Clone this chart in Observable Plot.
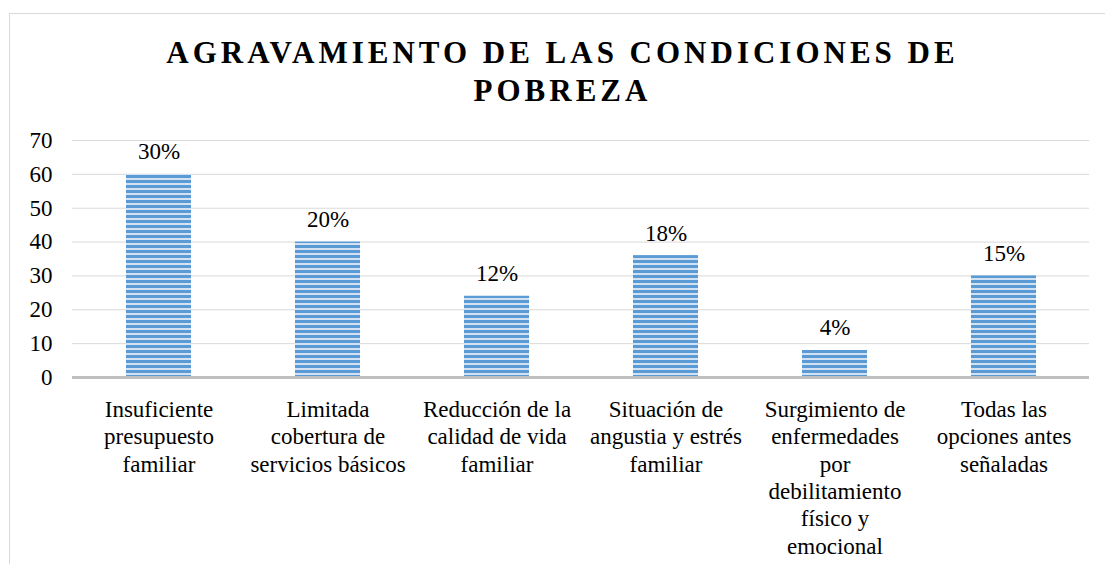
<!DOCTYPE html>
<html><head><meta charset="utf-8">
<script src="https://cdn.jsdelivr.net/npm/d3@7"></script>
<script src="https://cdn.jsdelivr.net/npm/@observablehq/plot@0.6"></script>
<style>
body{margin:0;overflow:hidden;background:#fff;}
#wrap{position:relative;width:1105px;height:564px;overflow:hidden;background:#fff;}
#frame{position:absolute;left:9px;top:13px;width:1200px;height:700px;border:1px solid #d9d9d9;}
#title{position:absolute;left:10px;top:34px;width:1105px;text-align:center;font-family:"Liberation Serif",Tinos,"Times New Roman",Times,"DejaVu Serif",serif;font-weight:bold;font-size:31px;letter-spacing:4px;line-height:38px;color:#000;}
#chart{position:absolute;left:0;top:0;}
#chart svg text{font-family:"Liberation Serif",Tinos,"Times New Roman",Times,"DejaVu Serif",serif !important;}
</style>
</head><body>
<div id="wrap"><div id="frame"></div><div id="title">AGRAVAMIENTO DE LAS CONDICIONES DE<br>POBREZA</div><div id="chart"></div></div>
<script>
const categories = [
  "Insuficiente\npresupuesto\nfamiliar",
  "Limitada\ncobertura de\nservicios básicos",
  "Reducción de la\ncalidad de vida\nfamiliar",
  "Situación de\nangustia y estrés\nfamiliar",
  "Surgimiento de\nenfermedades\npor\ndebilitamiento\nfísico y\nemocional",
  "Todas las\nopciones antes\nseñaladas"
];
const values = [60, 40, 24, 36, 8, 30];
const percents = ["30%", "20%", "12%", "18%", "4%", "15%"];
const yTicks = [0, 10, 20, 30, 40, 50, 60, 70];

const data = categories.map((c, i) => ({cat: c, value: values[i], label: percents[i]}));
const serif = '"Liberation Serif",Tinos,"Times New Roman",Times,"DejaVu Serif",serif';

const chart = Plot.plot({
  width: 1105, height: 564,
  marginLeft: 72, marginRight: 16, marginTop: 140, marginBottom: 187,
  style: {fontFamily: serif, fontSize: "23px", color: "#000", background: "transparent", overflow: "visible"},
  x: {domain: categories, paddingInner: 0.617, paddingOuter: 0.3, label: null},
  y: {domain: [0, 70], label: null},
  marks: [
    Plot.gridY(yTicks, {stroke: "#d9d9d9", strokeOpacity: 1, strokeWidth: 1}),
    Plot.barY(data, {x: "cat", y: "value", fill: "url(#stripes)"}),
    Plot.ruleY([0], {stroke: "#bfbfbf", strokeWidth: 3}),
    Plot.text(data, {x: "cat", y: "value", text: "label", lineAnchor: "bottom", dy: -15, fontSize: 23, fill: "#000", fontFamily: serif}),
    Plot.axisY({ticks: yTicks, tickSize: 0, tickPadding: 20, fontSize: 23, fontFamily: serif, label: null}),
    Plot.axisX({tickSize: 0, tickPadding: 20, fontSize: 23, fontFamily: serif, lineHeight: 1.19, label: null})
  ]
});

const svg = d3.select(chart);
const defs = svg.insert("defs", ":first-child");
const pat = defs.append("pattern").attr("id", "stripes").attr("patternUnits", "userSpaceOnUse").attr("width", 10).attr("height", 5);
pat.append("rect").attr("width", 10).attr("height", 5).attr("fill", "#d3e2f3");
pat.append("rect").attr("width", 10).attr("height", 3).attr("fill", "#5b9bd5");

document.getElementById("chart").appendChild(chart);
</script>
</body></html>
